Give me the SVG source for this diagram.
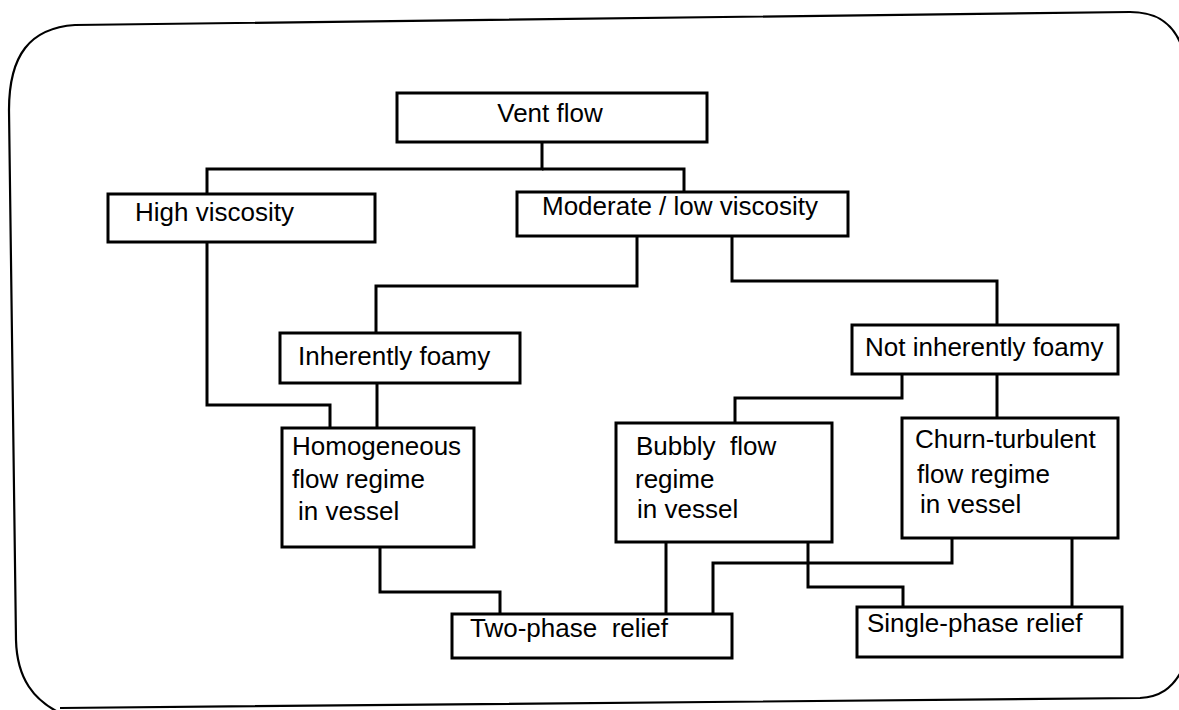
<svg xmlns="http://www.w3.org/2000/svg" width="1179" height="710" viewBox="0 0 1179 710">
  <style>
    .box { fill: #fff; stroke: #000; stroke-width: 3; }
    .wire { fill: none; stroke: #000; stroke-width: 3; stroke-linejoin: miter; }
    .frame { fill: none; stroke: #000; stroke-width: 2.2; }
    text { font-family: "Liberation Sans", Arial, sans-serif; font-size: 26px; fill: #000; }
  </style>
  <rect width="1179" height="710" fill="#fff"/>

  <!-- rounded outer border -->
  <g id="frame">
    <path class="frame" d="M 9,110 C 9,55 30,28 75,25 L 1130,12 C 1158,12 1172,24 1180,42"/>
    <path class="frame" d="M 1181,672 C 1172,688 1160,697 1140,698 L 60,708"/>
    <path class="frame" d="M 9,110 L 16,640 C 17,680 35,700 58,712"/>
  </g>

  <!-- connectors -->
  <g id="connectors">
    <path class="wire" d="M 542,142 V 169 H 207 V 194"/>
    <path class="wire" d="M 542,169 H 684 V 192"/>
    <path class="wire" d="M 207,242 V 405 H 330 V 428"/>
    <path class="wire" d="M 637,236 V 286 H 376 V 333"/>
    <path class="wire" d="M 732,236 V 281 H 997 V 325"/>
    <path class="wire" d="M 377,383 V 428"/>
    <path class="wire" d="M 902,374 V 398 H 735 V 423"/>
    <path class="wire" d="M 997,374 V 418"/>
    <path class="wire" d="M 380,547 V 592 H 500 V 614"/>
    <path class="wire" d="M 666,542 V 614"/>
    <path class="wire" d="M 952,538 V 563 H 713 V 614"/>
    <path class="wire" d="M 808,542 V 587 H 903 V 607"/>
    <path class="wire" d="M 1072,538 V 607"/>
  </g>

  <g id="vent-flow">
    <rect class="box" x="397" y="93" width="310" height="49"/>
    <text x="550" y="122" text-anchor="middle">Vent flow</text>
  </g>

  <g id="high-viscosity">
    <rect class="box" x="108" y="194" width="267" height="48"/>
    <text x="135" y="221">High viscosity</text>
  </g>

  <g id="moderate-low-viscosity">
    <rect class="box" x="517" y="192" width="331" height="44"/>
    <text x="542" y="215">Moderate / low viscosity</text>
  </g>

  <g id="inherently-foamy">
    <rect class="box" x="280" y="333" width="240" height="50"/>
    <text x="298" y="365">Inherently foamy</text>
  </g>

  <g id="not-inherently-foamy">
    <rect class="box" x="852" y="325" width="266" height="49"/>
    <text x="865" y="356">Not inherently foamy</text>
  </g>

  <g id="homogeneous">
    <rect class="box" x="282" y="428" width="192" height="119"/>
    <text x="292" y="455">Homogeneous</text>
    <text x="292" y="488">flow regime</text>
    <text x="298" y="520">in vessel</text>
  </g>

  <g id="bubbly">
    <rect class="box" x="616" y="423" width="216" height="119"/>
    <text x="636" y="455" xml:space="preserve">Bubbly  flow</text>
    <text x="635" y="488">regime</text>
    <text x="637" y="518">in vessel</text>
  </g>

  <g id="churn-turbulent">
    <rect class="box" x="902" y="418" width="216" height="120"/>
    <text x="915" y="448">Churn-turbulent</text>
    <text x="917" y="483">flow regime</text>
    <text x="920" y="513">in vessel</text>
  </g>

  <g id="two-phase-relief">
    <rect class="box" x="452" y="614" width="280" height="44"/>
    <text x="470" y="637" xml:space="preserve">Two-phase  relief</text>
  </g>

  <g id="single-phase-relief">
    <rect class="box" x="857" y="607" width="265" height="50"/>
    <text x="867" y="632">Single-phase relief</text>
  </g>
</svg>
